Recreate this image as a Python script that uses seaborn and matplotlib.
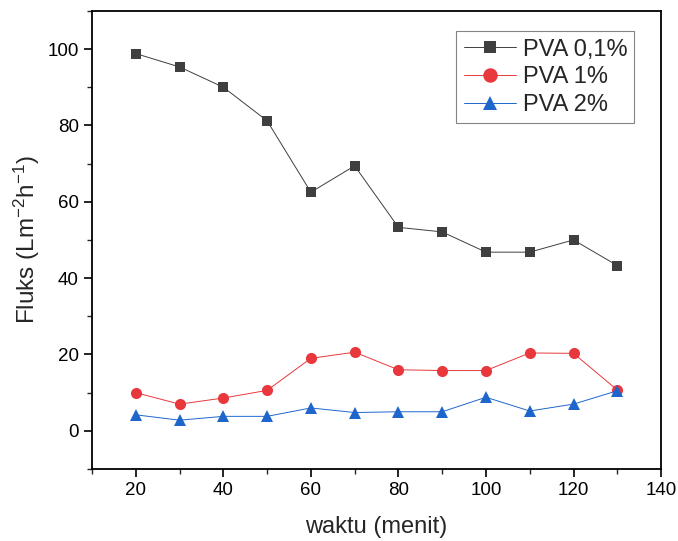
import numpy as np
import pandas as pd
import matplotlib
matplotlib.use("Agg")
import matplotlib.pyplot as plt
import seaborn as sns
from matplotlib.ticker import MultipleLocator

waktu = [20, 30, 40, 50, 60, 70, 80, 90, 100, 110, 120, 130]
pva_01 = [98.8, 95.3, 90.0, 81.2, 62.5, 69.4, 53.3, 52.1, 46.8, 46.8, 50.0, 43.3]
pva_1 = [10.0, 7.0, 8.6, 10.6, 19.0, 20.6, 16.0, 15.8, 15.8, 20.4, 20.3, 10.7]
pva_2 = [4.2, 2.8, 3.8, 3.8, 6.0, 4.8, 5.0, 5.0, 8.8, 5.2, 7.0, 10.5]

sns.set_style("ticks")
plt.rcParams['font.family'] = ['Liberation Sans', 'DejaVu Sans']
plt.rcParams['mathtext.default'] = 'regular'
plt.rcParams['axes.unicode_minus'] = False

fig = plt.figure(figsize=(6.78, 5.41), dpi=100)
ax = fig.add_axes([0.1357, 0.133, 0.8393, 0.847])

series = [
    ("PVA 0,1%", pva_01, "#3f3f3f", "s", 7),
    ("PVA 1%", pva_1, "#e8383d", "o", 8),
    ("PVA 2%", pva_2, "#1f66cc", "^", 8),
]
for name, vals, col, mk, ms in series:
    df = pd.DataFrame({"waktu": waktu, "fluks": vals})
    sns.lineplot(data=df, x="waktu", y="fluks", ax=ax, color=col, marker=mk,
                 markersize=ms, markeredgewidth=0, linewidth=0.7, label=name)

ax.set_xlim(10, 140)
ax.set_ylim(-10, 110)
ax.set_xticks([20, 40, 60, 80, 100, 120, 140])
ax.set_yticks([0, 20, 40, 60, 80, 100])
ax.xaxis.set_minor_locator(MultipleLocator(10))
ax.yaxis.set_minor_locator(MultipleLocator(10))
ax.tick_params(which="major", direction="out", length=6, width=1.2, labelsize=13.5, colors="black")
ax.tick_params(which="minor", direction="out", length=3.5, width=1.0)
for s in ax.spines.values():
    s.set_linewidth(1.3)
    s.set_color("black")

ax.set_xlabel("waktu (menit)", fontsize=17, labelpad=12)
ax.set_ylabel("Fluks (Lm$^{-2}$h$^{-1}$)", fontsize=17.5, labelpad=4)

leg = ax.legend(loc="upper right", bbox_to_anchor=(0.953, 0.955), fontsize=17,
                frameon=True, fancybox=False, edgecolor="#666666",
                handlelength=2.2, handletextpad=0.3, labelspacing=0.25,
                borderpad=0.3, borderaxespad=0, markerscale=1.3)
leg.get_frame().set_linewidth(0.8)

fig.savefig("out.png", dpi=100)
